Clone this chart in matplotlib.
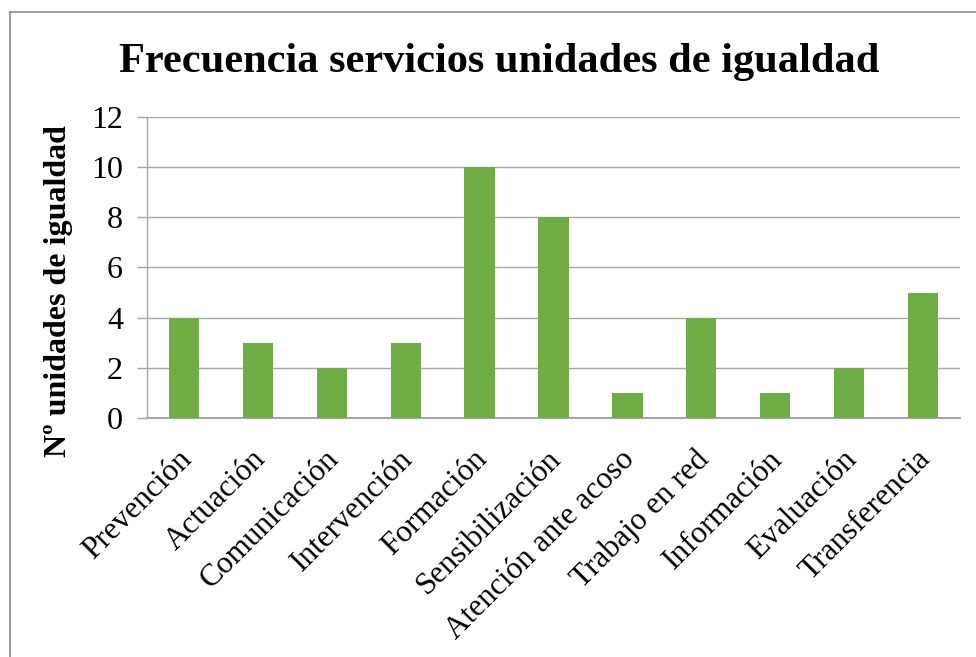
import matplotlib
matplotlib.use("Agg")
import matplotlib.pyplot as plt
import matplotlib.transforms as mtransforms
from matplotlib.lines import Line2D
import numpy as np

categorias = ["Prevención", "Actuación", "Comunicación", "Intervención", "Formación",
              "Sensibilización", "Atención ante acoso", "Trabajo en red", "Información",
              "Evaluación", "Transferencia"]
frecuencia = [4, 3, 2, 3, 10, 8, 1, 4, 1, 2, 5]
yticks = [0, 2, 4, 6, 8, 10, 12]

plt.rcParams["font.family"] = ["Liberation Serif", "DejaVu Serif"]

fig = plt.figure(figsize=(9.76, 6.57), dpi=100)
ax = fig.add_axes([0.1506, 0.3638, 0.833, 0.4581])

x = np.arange(len(categorias))
ax.bar(x, frecuencia, width=0.41, color="#70AD47", zorder=3)

ax.set_xlim(-0.5, len(categorias) - 0.5)
ax.set_ylim(0, 12)
ax.set_yticks(yticks)
ax.set_yticklabels([str(v) for v in yticks], fontsize=23)
ax.set_xticks(x)
ax.set_xticklabels(categorias, fontsize=22.5, rotation=45, ha="right",
                   rotation_mode="anchor")
ax.tick_params(axis="x", length=0, pad=14)
ax.tick_params(axis="y", length=7.2, width=1, color="#A6A6A6", pad=10)
ax.grid(axis="y", color="#A6A6A6", lw=1, zorder=0)

# desplazar un poco las etiquetas del eje x hacia abajo-izquierda
offset = mtransforms.ScaledTranslation(-7 / 100, -7 / 100, fig.dpi_scale_trans)
for lbl in ax.get_xticklabels():
    lbl.set_transform(lbl.get_transform() + offset)

for s in ["top", "right"]:
    ax.spines[s].set_visible(False)
for s in ["left", "bottom"]:
    ax.spines[s].set_color("#A6A6A6")
    ax.spines[s].set_linewidth(1)
ax.spines["bottom"].set_linewidth(1.5)

fig.text(59 / 976, 1 - 291 / 657, "Nº unidades de igualdad", fontsize=23,
         fontweight="bold", rotation=90, ha="center", va="center")

fig.text(0.511, 0.906, "Frecuencia servicios unidades de igualdad", fontsize=30.5,
         fontweight="bold", ha="center", va="center")

# marco del grafico (solo borde superior e izquierdo visibles)
fig.add_artist(Line2D([0.0102, 1.0], [0.9817, 0.9817], color="#8C8C8C", lw=1.2,
                      transform=fig.transFigure))
fig.add_artist(Line2D([0.0102, 0.0102], [0.0, 0.9817], color="#8C8C8C", lw=1.2,
                      transform=fig.transFigure))

plt.savefig("out.png", dpi=100)
